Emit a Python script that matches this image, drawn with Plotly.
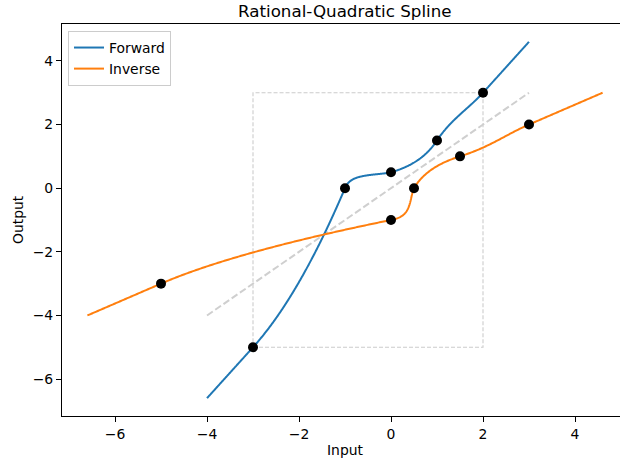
import numpy as np
import plotly.graph_objects as go

# ---- data ----
knot_x = [-3.0, -1.0, 0.0, 1.0, 2.0]
knot_y = [-5.0, 0.0, 0.5, 1.5, 3.0]
knot_d = [1.6, 3.4, 0.4, 2.2, 1.6]      # derivatives at the knots
input_lo, input_hi = -4.0, 3.0           # plotted input domain
x_ticks = [-6, -4, -2, 0, 2, 4]
y_ticks = [-6, -4, -2, 0, 2, 4]

BLUE = "#1f77b4"
ORANGE = "#ff7f0e"
FONT = "DejaVu Sans"


def rq_spline(x):
    kx = np.asarray(knot_x); ky = np.asarray(knot_y); kd = np.asarray(knot_d)
    x = np.asarray(x, dtype=float)
    out = np.empty_like(x)
    lo = x < kx[0]
    hi = x > kx[-1]
    out[lo] = ky[0] + kd[0] * (x[lo] - kx[0])
    out[hi] = ky[-1] + kd[-1] * (x[hi] - kx[-1])
    mid = ~(lo | hi)
    xm = x[mid]
    k = np.clip(np.searchsorted(kx, xm, side="right") - 1, 0, len(kx) - 2)
    w = kx[k + 1] - kx[k]
    h = ky[k + 1] - ky[k]
    s = h / w
    xi = (xm - kx[k]) / w
    q = xi * (1 - xi)
    num = h * (s * xi ** 2 + kd[k] * q)
    den = s + (kd[k] + kd[k + 1] - 2 * s) * q
    out[mid] = ky[k] + num / den
    return out


t = np.linspace(input_lo, input_hi, 800)
ft = rq_spline(t)

fig = go.Figure()

# box around the spline region
bx = [knot_x[0], knot_x[-1], knot_x[-1], knot_x[0], knot_x[0]]
by = [knot_y[0], knot_y[0], knot_y[-1], knot_y[-1], knot_y[0]]
fig.add_trace(go.Scatter(x=bx, y=by, mode="lines", showlegend=False, hoverinfo="skip",
                         line=dict(color="#cccccc", width=1.1, dash="4px,2px")))
# identity line
fig.add_trace(go.Scatter(x=[input_lo, input_hi], y=[input_lo, input_hi], mode="lines",
                         showlegend=False, hoverinfo="skip",
                         line=dict(color="#cfcfcf", width=2, dash="7px,3px")))

fig.add_trace(go.Scatter(x=t, y=ft, mode="lines", name="Forward",
                         line=dict(color=BLUE, width=2, simplify=False)))
fig.add_trace(go.Scatter(x=ft, y=t, mode="lines", name="Inverse",
                         line=dict(color=ORANGE, width=2, simplify=False)))

fig.add_trace(go.Scatter(x=knot_x, y=knot_y, mode="markers", showlegend=False,
                         marker=dict(color="black", size=10)))
fig.add_trace(go.Scatter(x=knot_y, y=knot_x, mode="markers", showlegend=False,
                         marker=dict(color="black", size=10)))

L, T, B = 62, 24, 48
W, H = 620, 464
pw = W - L
ph = H - T - B
px_per_x = 46.0
x0_px = 391.0 - L
xr = [-x0_px / px_per_x, (pw - x0_px) / px_per_x]
yr = [-7.16, 5.16]

axis_common = dict(showgrid=False, zeroline=False, showline=True, linecolor="black",
                   linewidth=1.1, ticks="outside", ticklen=5, tickwidth=1.1,
                   tickcolor="black", tickfont=dict(family=FONT, size=13.9, color="black"))

fig.update_layout(
    width=W, height=H,
    margin=dict(l=L, r=0, t=T, b=B, pad=0),
    paper_bgcolor="white", plot_bgcolor="white",
    xaxis=dict(range=xr, tickvals=x_ticks, mirror=True, **axis_common),
    yaxis=dict(range=yr, tickvals=y_ticks, mirror=False, **axis_common),
    legend=dict(x=6 / pw, y=1 - 7 / ph, xanchor="left", yanchor="top",
                bgcolor="rgba(255,255,255,0.8)", bordercolor="#cccccc", borderwidth=1,
                font=dict(family=FONT, size=13.9, color="black"), tracegroupgap=0,
                itemwidth=30),
    font=dict(family=FONT, color="black"),
    showlegend=True,
)

cx = (345 - L) / pw
fig.add_annotation(text="Rational-Quadratic Spline", xref="paper", yref="paper",
                   x=cx, y=(H - B - 11) / ph, xanchor="center", yanchor="middle",
                   showarrow=False, font=dict(family=FONT, size=16.7, color="black"))
fig.add_annotation(text="Input", xref="paper", yref="paper",
                   x=cx, y=-(450 - (H - B)) / ph, xanchor="center", yanchor="middle",
                   showarrow=False, font=dict(family=FONT, size=13.9, color="black"))
fig.add_annotation(text="Output", xref="paper", yref="paper", textangle=-90,
                   x=-(L - 18) / pw, y=0.5, xanchor="center", yanchor="middle",
                   showarrow=False, font=dict(family=FONT, size=13.9, color="black"))

fig.write_html("out.html")
